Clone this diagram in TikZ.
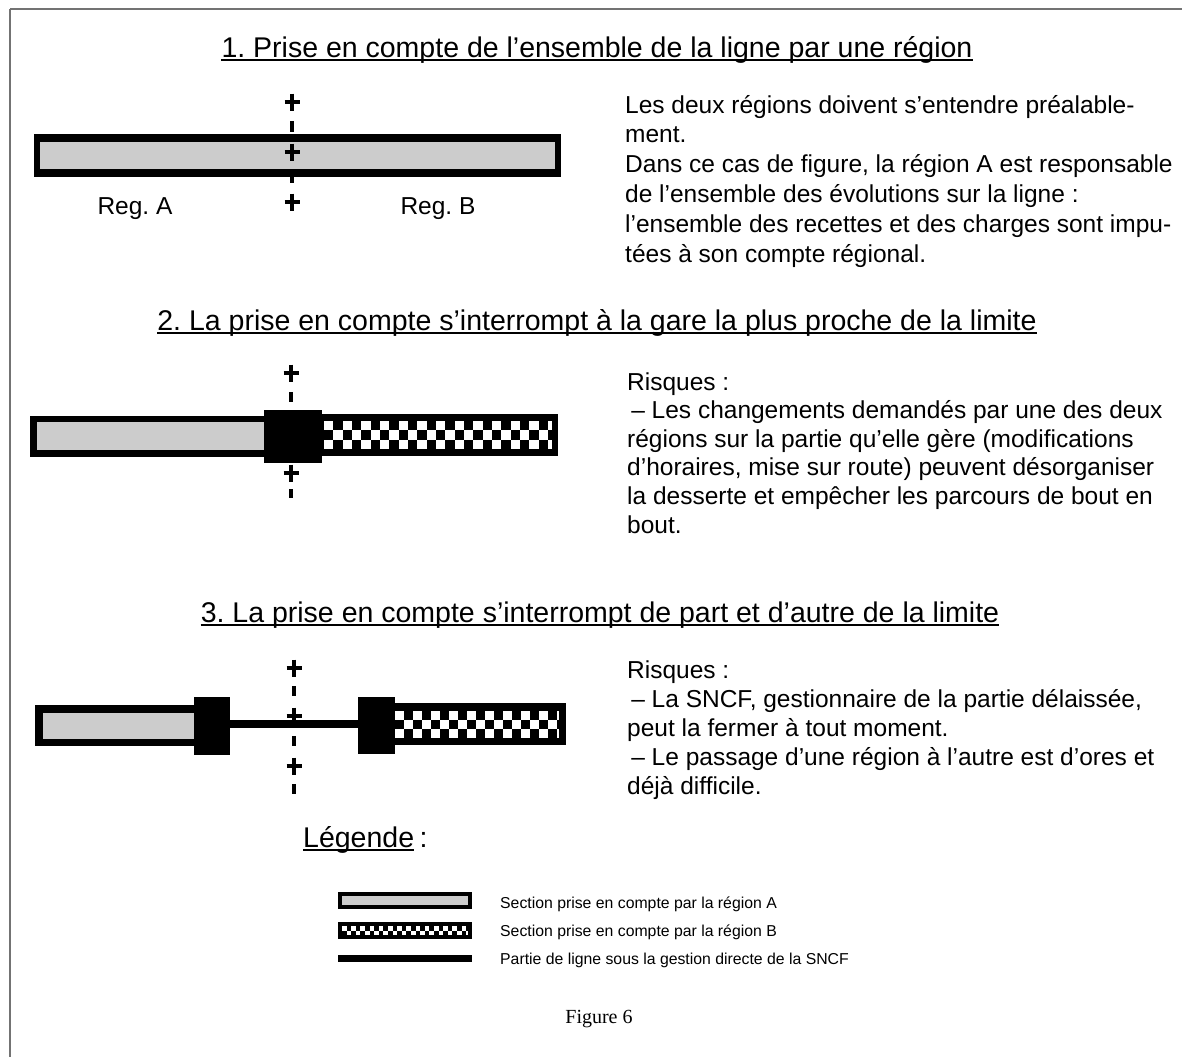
\documentclass[tikz,border=0pt]{standalone}
\usepackage{fontspec}
\setmainfont{Liberation Sans}
\newfontfamily\timesfont{Liberation Serif}
\frenchspacing
\begin{document}
\begin{tikzpicture}[x=1pt,y=-1pt,
  title/.style={anchor=base,inner sep=0pt,font=\fontsize{28.5}{34}\selectfont},
  body/.style={anchor=base west,inner sep=0pt,font=\fontsize{24.5}{29.8}\selectfont},
  small/.style={anchor=base west,inner sep=0pt,font=\fontsize{15.8}{19}\selectfont},
  plusmark/.style={line width=3.6pt,black},
  dashmark/.style={line width=3.6pt,black},
  uline/.style={line width=1.4pt,black},
  frameline/.style={line width=1.6pt,black!55},
  shadeA/.style={fill=black!20}]
\newcommand\plusat[2]{\draw[plusmark] ({#1-7.5},#2) -- ({#1+7.5},#2) (#1,{#2-8.5}) -- (#1,{#2+8.5});}
\newcommand\dashat[3]{\draw[dashmark] (#1,#2) -- (#1,#3);}
\newcommand\chk[5]{%
  \begin{scope}
  \clip (#1,#2) rectangle (#3,#4);
  \fill[white] (#1,#2) rectangle (#3,#4);
  \pgfmathtruncatemacro\chkc{ceil((#3-#1)/#5)}
  \pgfmathtruncatemacro\chkr{ceil((#4-#2)/#5)}
  \foreach \i in {0,...,\chkc}{\foreach \j in {0,...,\chkr}{%
    \pgfmathtruncatemacro\chkp{mod(\i+\j,2)}%
    \ifnum\chkp=1 \fill[black] ({#1+\i*#5},{#2+\j*#5}) rectangle ++(#5,#5);\fi}}
  \end{scope}}
\useasboundingbox[fill=white] (0,0) rectangle (1182,1057);
% frame
\draw[frameline] (10,9) -- (1182,9);
\draw[frameline] (10,9) -- (10,1057);

% ---------- Section 1 ----------
\node[title] (t1) at (597,57) {1. Prise en compte de l’ensemble de la ligne par une région};
\draw[uline] ([yshift=-3pt]t1.base west) -- ([yshift=-3pt]t1.base east);
\fill[black] (34,134) rectangle (561,177);
\fill[shadeA] (40,142) rectangle (555,169);
\plusat{292}{102}
\dashat{292}{121}{132}
\plusat{292}{152}
\dashat{292}{175}{183}
\plusat{292}{202}
\node[anchor=center,inner sep=0pt,font=\fontsize{24.5}{29.8}\selectfont] (rega) at (135,209) {Reg. A};
\node[anchor=center,inner sep=0pt,font=\fontsize{24.5}{29.8}\selectfont] (regb) at (438,209) {Reg. B};
\foreach \t [count=\i] in {{Les deux régions doivent s’entendre préalable-},{ment.},{Dans ce cas de figure, la région A est responsable},{de l’ensemble des évolutions sur la ligne :},{l’ensemble des recettes et des charges sont impu-},{tées à son compte régional.}}
  \node[body] (sa\i) at (625,{113+29.8*(\i-1)}) {\t};

% ---------- Section 2 ----------
\node[title] (t2) at (597,330) {2. La prise en compte s’interrompt à la gare la plus proche de la limite};
\draw[uline] ([yshift=-3pt]t2.base west) -- ([yshift=-3pt]t2.base east);
\fill[black] (30,416) rectangle (266,457);
\fill[shadeA] (37,422) rectangle (266,450);
\fill[black] (322,414) rectangle (558,456);
\chk{324}{421}{552}{449}{9.33}
\fill[black] (264,410) rectangle (322,463);
\plusat{291}{373}
\dashat{291}{392}{402}
\plusat{291}{473}
\dashat{291}{489}{498}
\foreach \t [count=\i] in {{Risques :},{\,– Les changements demandés par une des deux},{régions sur la partie qu’elle gère (modifications},{d’horaires, mise sur route) peuvent désorganiser},{la desserte et empêcher les parcours de bout en},{bout.}}
  \node[body] (sb\i) at (627,{390+28.6*(\i-1)}) {\t};

% ---------- Section 3 ----------
\node[title] (t3) at (600,622) {3. La prise en compte s’interrompt de part et d’autre de la limite};
\draw[uline] ([yshift=-3pt]t3.base west) -- ([yshift=-3pt]t3.base east);
\fill[black] (35,705) rectangle (196,746);
\fill[shadeA] (43,713) rectangle (196,739);
\fill[black] (228,720) rectangle (360,728);
\fill[black] (194,697) rectangle (230,755);
\fill[black] (394,703) rectangle (566,745);
\chk{395}{711}{559}{738}{9}
\fill[black] (358,697) rectangle (395,754);
\plusat{294}{668}
\dashat{294}{686}{696}
\plusat{294}{716}
\dashat{294}{736}{746}
\plusat{294}{766}
\dashat{294}{784}{794}
\foreach \t [count=\i] in {{Risques :},{\,– La SNCF, gestionnaire de la partie délaissée,},{peut la fermer à tout moment.},{\,– Le passage d’une région à l’autre est d’ores et},{déjà difficile.}}
  \node[body] (sc\i) at (627,{678+29*(\i-1)}) {\t};

% ---------- Legend ----------
\node[anchor=base west,inner sep=0pt,font=\fontsize{28.5}{34}\selectfont] (leg) at (303,847) {Légende};
\node[anchor=base west,inner sep=0pt,font=\fontsize{28.5}{34}\selectfont] (legc) at ([xshift=5pt]leg.base east) {:};
\draw[uline] ([yshift=-3pt]leg.base west) -- ([yshift=-3pt]leg.base east);
\fill[black] (338,892) rectangle (472,909);
\fill[shadeA] (342,896) rectangle (468,905);
\fill[black] (338,922) rectangle (472,939);
\chk{342}{926}{468}{935}{4.6}
\fill[black] (338,955) rectangle (472,962);
\node[small] (la) at (500,908) {Section prise en compte par la région A};
\node[small] (lb) at (500,936) {Section prise en compte par la région B};
\node[small] (lc) at (500,964) {Partie de ligne sous la gestion directe de la SNCF};
\node[anchor=center,inner sep=0pt,font=\timesfont\fontsize{20}{24}\selectfont] (fig) at (599,1019) {Figure 6};
\end{tikzpicture}
\end{document}
